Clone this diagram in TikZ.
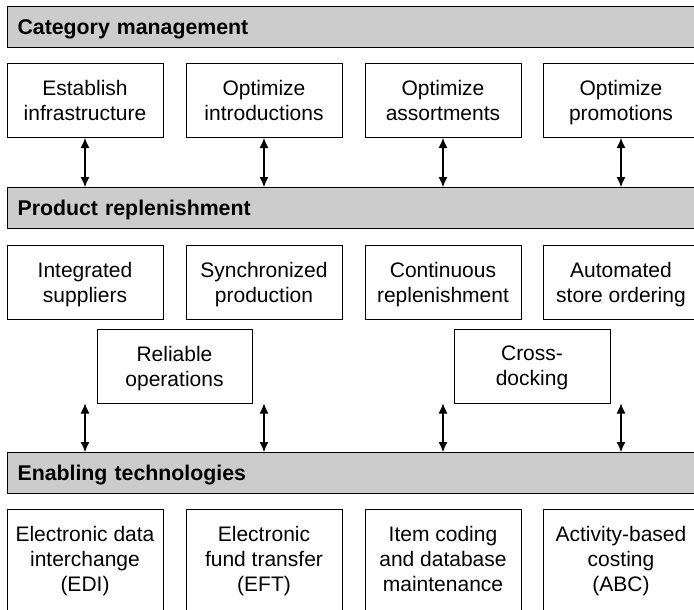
\documentclass[tikz,border=0pt]{standalone}
\usepackage{fontspec}
\setmainfont{Liberation Sans}
\usepackage{tikz}
\usetikzlibrary{arrows.meta}
\definecolor{bargray}{RGB}{204,204,204}
\tikzset{box/.style={draw, line width=1pt, minimum width=156pt, minimum height=74pt, align=center, inner sep=2pt, font=\fontsize{21}{25}\selectfont, text depth=-1pt},
  techbox/.style={box, minimum height=110pt, text depth=11pt},
  bar/.style={draw, line width=1.1pt, fill=bargray, anchor=north west, text width=680pt, inner xsep=10pt, minimum height=41pt, text height=14pt, text depth=0pt, align=left, font=\fontsize{21.3}{24}\selectfont\bfseries},
  <->-/.style={{Latex[length=10pt,width=9pt]}-{Latex[length=10pt,width=9pt]}, line width=1.1pt}}

\begin{document}
\begin{tikzpicture}[x=1pt,y=-1pt]
\useasboundingbox (0,0) rectangle (694,610);
\node[bar] (catm) at (7,6) {Category management};
\node[box] (infra) at (85,100.5) {Establish\\infrastructure};
\node[box] (intro) at (264,100.5) {Optimize\\introductions};
\node[box] (assort) at (443,100.5) {Optimize\\assortments};
\node[box] (promo) at (621,100.5) {Optimize\\promotions};
\node[bar] (prodr) at (7,187) {Product replenishment};
\foreach \n in {infra,intro,assort,promo} \draw[<->-] (\n.south) -- (\n.south |- prodr.north);
\node[box] (suppl) at (85,282) {Integrated\\suppliers};
\node[box] (sync) at (264,282) {Synchronized\\production};
\node[box] (contr) at (443,282) {Continuous\\replenishment};
\node[box] (autos) at (621,282) {Automated\\store ordering};
\node[box, minimum width=155pt] (reliab) at (174.5,366) {Reliable\\operations};
\node[box] (xdock) at (532,366) {Cross-\\docking};
\node[bar] (enabt) at (7,452) {Enabling technologies};
\foreach \n/\m in {suppl/reliab,sync/reliab,contr/xdock,autos/xdock} \draw[<->-] (\n.south |- \m.south) -- (\n.south |- enabt.north);
\node[techbox] (edi) at (85,564) {Electronic data\\interchange\\(EDI)};
\node[techbox] (eft) at (264,564) {Electronic\\fund transfer\\(EFT)};
\node[techbox] (itemc) at (443,564) {Item coding\\and database\\maintenance};
\node[techbox] (abc) at (621,564) {Activity-based\\costing\\(ABC)};
\end{tikzpicture}
\end{document}
